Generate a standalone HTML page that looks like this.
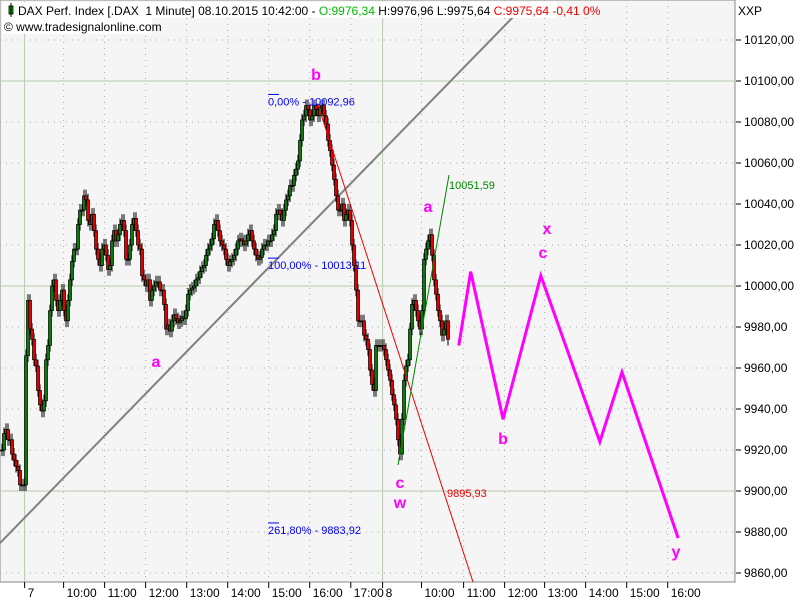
<!DOCTYPE html>
<html><head><meta charset="utf-8"><style>
body{margin:0;background:#fff;font-family:"Liberation Sans",sans-serif;}
svg text{font-family:"Liberation Sans",sans-serif;}
</style></head><body>
<svg id="c" width="800" height="600" xmlns="http://www.w3.org/2000/svg">
<rect x="0" y="0" width="800" height="600" fill="#fff"/>
<rect x="0" y="0" width="735" height="582" fill="#f5f5f5" stroke="#888"/>
<g id="grid"></g><g id="ann"></g><g id="candles"></g><g id="over"></g><g id="axes"></g>
<g>
<rect x="2" y="2" width="555" height="16" fill="#fff"/>
<rect x="2" y="18" width="150" height="16" fill="#fff"/>
<rect x="9" y="6" width="4" height="8" fill="#0a0" stroke="#000" stroke-width="0.8"/>
<line x1="11" y1="3" x2="11" y2="17" stroke="#000"/>
<text x="18" y="15" font-size="12">DAX Perf. Index [.DAX&#160; 1 Minute] 08.10.2015 10:42:00 - <tspan fill="#0b0">O:9976,34</tspan> H:9976,96 L:9975,64 <tspan fill="#e00">C:9975,64 -0,41 0%</tspan></text>
<text x="4" y="31" font-size="12">© www.tradesignalonline.com</text>
</g>
</svg>
<script>
const closes=[9920,9928,9930,9925,9925,9918,9915,9912,9910,9903,9903,9903,
9966,9993,9979,9974,9964,9961,9949,9942,9939,9944,9964,9971,9988,10000,10003,9993,9988,9993,9998,9988,9983,9993,10003,10012,10018,10018,10030,10037,10037,10044,10042,10032,10030,10035,10027,10018,10013,10010,10018,10020,10015,10008,10010,10022,10027,10022,10025,10030,10032,10027,10013,10013,10020,10030,10033,10027,10020,10018,10005,10003,10000,10003,9993,9998,10000,10002,10002,9998,9998,9991,9979,9981,9978,9983,9986,9984,9982,9983,9985,9984,9988,9996,9998,9999,10000,10003,10004,10007,10009,10010,10015,10018,10020,10023,10030,10032,10027,10022,10020,10018,10013,10010,10012,10013,10015,10018,10022,10023,10022,10020,10022,10025,10027,10022,10018,10015,10013,10014,10018,10020,10020,10022,10022,10025,10027,10035,10037,10035,10032,10037,10042,10044,10049,10049,10054,10057,10061,10071,10081,10083,10088,10086,10081,10083,10088,10086,10083,10087,10088,10083,10079,10071,10066,10059,10052,10044,10037,10037,10040,10032,10035,10037,10032,10020,10010,9998,9983,9983,9983,9976,9974,9969,9959,9952,9949,9971,9971,9971,9971,9969,9964,9959,9954,9947,9942,9935,9925,9918,9935,9954,9961,9964,9979,9991,9993,9988,9983,9979,9988,10013,10018,10022,10025,10015,10003,9996,9988,9983,9976,9979,9983,9974];
const priceTicks=[10120,10100,10080,10060,10040,10020,10000,9980,9960,9940,9920,9900,9880,9860];
const timeLabels=["7","10:00","11:00","12:00","13:00","14:00","15:00","16:00","17:00","8","10:00","11:00","12:00","13:00","14:00","15:00","16:00"];
const projHours=[10.91,11.2,11.99,12.91,14.35,14.89,16.26];
const projPrices=[9971,10007,9935,10005,9924,9958,9877];
const fibLevels=[10092.96,10013.11,9883.92];
const fibNames=["0,00% - 10092,96","100,00% - 10013,11","261,80% - 9883,92"];

const NS="http://www.w3.org/2000/svg";
const y=p=>286-(p-10000)*2.05;
const xi=i=>1+i*2;
const xh=h=>421.5+(h-10)*41;
const tickX=[24.6,63.6,104.6,145.6,186.7,227.7,268.7,309.7,350.8,382.6,421.5,463.6,504.6,544.6,585.6,626.7,667.7];
function mk(tag,attrs,parent){const e=document.createElementNS(NS,tag);for(const k in attrs)e.setAttribute(k,attrs[k]);document.getElementById(parent).appendChild(e);return e;}

priceTicks.forEach(p=>{
 const solid=p%100===0;
 const l=mk('line',{x1:0,x2:735,y1:y(p),y2:y(p),stroke:solid?'#b5ccb0':'#aaa','stroke-dasharray':solid?'':'1 5'},'grid');
 
 
 const t=mk('text',{x:744,y:y(p)+4,'font-size':12},'axes');t.textContent=p.toLocaleString('de-DE',{minimumFractionDigits:2}).replace('.','');
 
 
 mk('line',{x1:736,x2:741,y1:y(p),y2:y(p),stroke:'#000'},'axes');
});
timeLabels.forEach((s,i)=>{
 const solid=(s==="7"||s==="8");
 const l=mk('line',{x1:tickX[i],x2:tickX[i],y1:0,y2:582,stroke:solid?'#b5ccb0':'#aaa','stroke-dasharray':solid?'':'1 5'},'grid');
 
 
 mk('line',{x1:tickX[i],x2:tickX[i],y1:582,y2:588,stroke:'#000'},'axes');
 const t=mk('text',{x:tickX[i]+3,y:597,'font-size':12},'axes');t.textContent=s;
 
 
});
const xxp=mk('text',{x:738,y:15,'font-size':12},'axes');xxp.textContent='XXP';



const tl=mk('line',{x1:0,y1:543,x2:517,y2:13,stroke:'#808080','stroke-width':2},'ann');


fibLevels.forEach((p,i)=>{
 mk('line',{x1:268,x2:279,y1:y(p)-1,y2:y(p)-1,stroke:'#00f'},'over');
 const t=mk('text',{x:268,y:y(p)+10,'font-size':11,fill:'#00f'},'over');t.textContent=fibNames[i];
 
 
});

closes.forEach((c,i)=>{
 const o=i===0?c:closes[i-1];
 const hi=Math.max(o,c)+3,lo=Math.min(o,c)-3;
 const g=mk('g',{},'candles');
 
 
 const x=xi(i);
 const ln=document.createElementNS(NS,'line');ln.setAttribute('x1',x+1);ln.setAttribute('x2',x+1);ln.setAttribute('y1',y(hi));ln.setAttribute('y2',y(lo));ln.setAttribute('stroke','#000');g.appendChild(ln);
 const r=document.createElementNS(NS,'rect');
 const top=y(Math.max(o,c)),h=Math.max(1,y(Math.min(o,c))-top);
 r.setAttribute('x',x-0.5);r.setAttribute('y',top);r.setAttribute('width',3);r.setAttribute('height',h);
 r.setAttribute('fill',c>=o?'#0a7a0a':'#e00000');r.setAttribute('stroke','#000');r.setAttribute('stroke-width','0.7');g.appendChild(r);
});

const rl=mk('line',{x1:318,y1:105,x2:473,y2:582,stroke:'#e00','stroke-width':1},'over');


const gl=mk('line',{x1:398,y1:465,x2:449,y2:175,stroke:'#080','stroke-width':1},'over');


const pl=mk('polyline',{points:projHours.map((h,i)=>xh(h)+','+y(projPrices[i])).join(' '),fill:'none',stroke:'#ff00ff','stroke-width':3},'over');


const t1=mk('text',{x:449,y:189,'font-size':11,fill:'#080'},'over');t1.textContent='10051,59';


const t2=mk('text',{x:447,y:497,'font-size':11,fill:'#e00'},'over');t2.textContent='9895,93';


[['b',316,80],['a',156,367],['a',428,212],['x',547,234],['c',543,258],['b',503,444],['c',400,488],['w',400,508],['y',676,557]].forEach(w=>{
 const t=mk('text',{x:w[1],y:w[2],'font-size':16,'font-weight':'bold',fill:'#ff00ff','text-anchor':'middle'},'over');t.textContent=w[0];
 
 
});
</script>
</body></html>
